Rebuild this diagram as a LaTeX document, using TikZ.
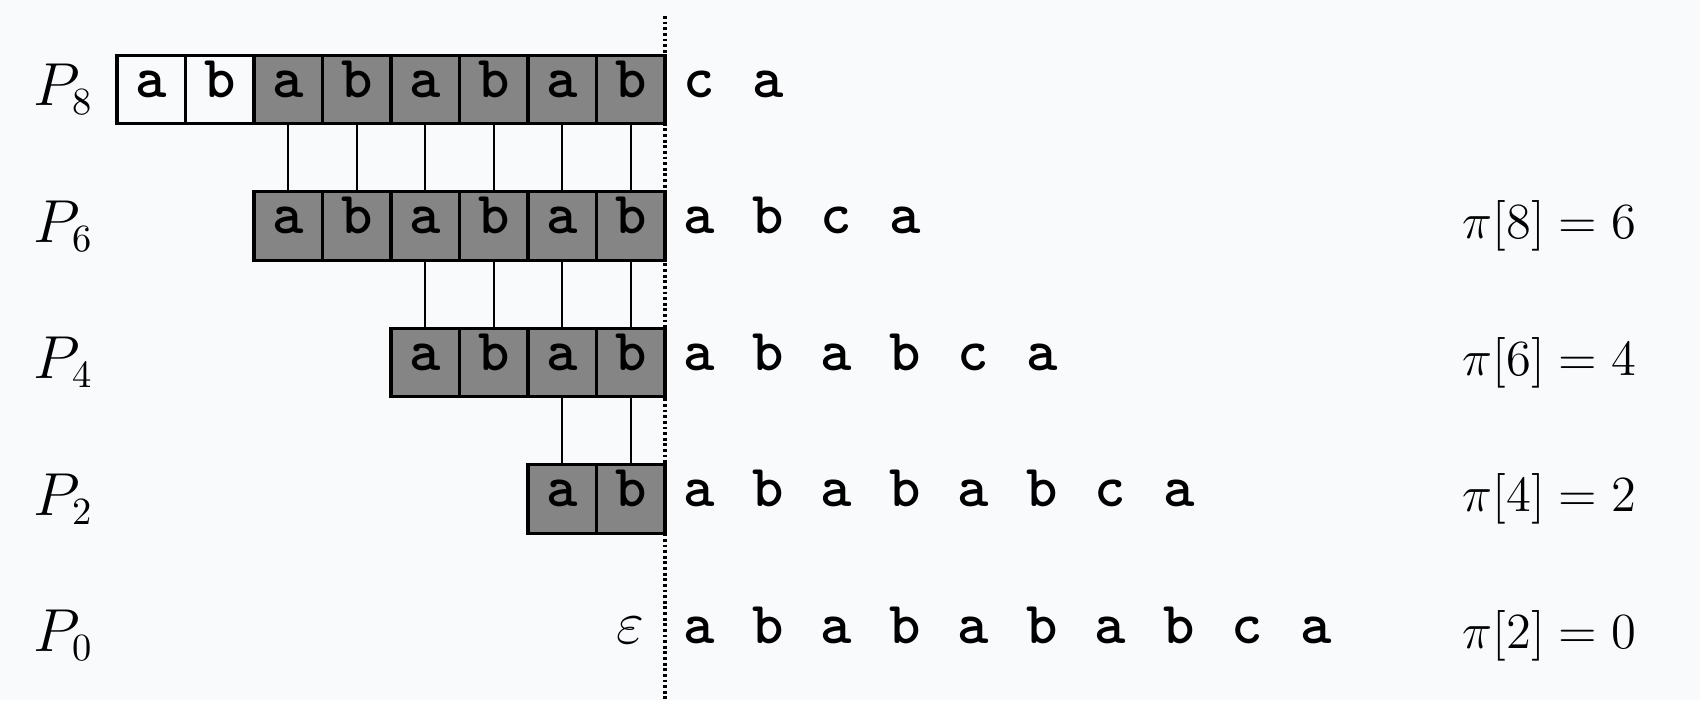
\documentclass[tikz,border=0pt]{standalone}
\usepackage{amsmath,amssymb}
\usepackage{tikz}
\usetikzlibrary{positioning,calc}

\definecolor{paper}{RGB}{249,250,252}
\definecolor{match}{gray}{0.52}

\begin{document}
\begin{tikzpicture}[
    font=\fontsize{15}{18}\selectfont,
    cell/.style={draw, line width=0.9pt, minimum width=0.685cm, minimum height=0.685cm,
      inner sep=0pt, outer sep=0pt, font=\fontsize{17}{20}\selectfont\ttfamily\bfseries,
      text height=1ex, text depth=0pt},
    hit/.style={cell, fill=match},
    txt/.style={inner sep=0pt, font=\fontsize{17}{20}\selectfont\ttfamily\bfseries,
      text height=1ex, text depth=0pt},
    lbl/.style={anchor=west, inner sep=0pt, font=\fontsize{16}{19}\selectfont},
    pilbl/.style={anchor=east, inner sep=0pt},
    link/.style={line width=0.6pt},
    cut/.style={line width=1pt, dash pattern=on 0.8pt off 0.8pt},
  ]
    \fill[paper] (0,0) rectangle (17,-7);
    \useasboundingbox (0,0) rectangle (17,-7);

    % row labels
    \foreach \n/\y in {8/-0.895,6/-2.26,4/-3.625,2/-4.99,0/-6.355}
      \node[lbl] (p\n) at (0.33,\y) {$P_{\n}$};

    % shifted patterns, right end on the cut
    \foreach \c [count=\i] in {a,b}
      \node[cell] (r8-\i) at ({6.65+(\i-8.5)*0.685},-0.895) {\c};
    \foreach \c [count=\i from 3] in {a,b,a,b,a,b}
      \node[hit] (r8-\i) at ({6.65+(\i-8.5)*0.685},-0.895) {\c};
    \foreach \c [count=\i] in {a,b,a,b,a,b}
      \node[hit] (r6-\i) at ({6.65+(\i-6.5)*0.685},-2.26) {\c};
    \foreach \c [count=\i] in {a,b,a,b}
      \node[hit] (r4-\i) at ({6.65+(\i-4.5)*0.685},-3.625) {\c};
    \foreach \c [count=\i] in {a,b}
      \node[hit] (r2-\i) at ({6.65+(\i-2.5)*0.685},-4.99) {\c};
    \node[txt] (eps) at ({6.65-0.5*0.685},-6.355) {$\varepsilon$};

    % matching characters
    \foreach \i [evaluate=\i as \j using int(\i-2)] in {3,...,8}
      \draw[link] (r8-\i.south) -- (r6-\j.north);
    \foreach \i [evaluate=\i as \j using int(\i-2)] in {3,...,6}
      \draw[link] (r6-\i.south) -- (r4-\j.north);
    \foreach \i [evaluate=\i as \j using int(\i-2)] in {3,4}
      \draw[link] (r4-\i.south) -- (r2-\j.north);

    % rest of the text
    \foreach \c [count=\i] in {c,a}
      \node[txt] (t8-\i) at ({6.65+(\i-0.5)*0.685},-0.895) {\c};
    \foreach \c [count=\i] in {a,b,c,a}
      \node[txt] (t6-\i) at ({6.65+(\i-0.5)*0.685},-2.26) {\c};
    \foreach \c [count=\i] in {a,b,a,b,c,a}
      \node[txt] (t4-\i) at ({6.65+(\i-0.5)*0.685},-3.625) {\c};
    \foreach \c [count=\i] in {a,b,a,b,a,b,c,a}
      \node[txt] (t2-\i) at ({6.65+(\i-0.5)*0.685},-4.99) {\c};
    \foreach \c [count=\i] in {a,b,a,b,a,b,a,b,c,a}
      \node[txt] (t0-\i) at ({6.65+(\i-0.5)*0.685},-6.355) {\c};

    % prefix function values
    \node[pilbl] (pi8) at (16.37,-2.26) {$\pi[8] = 6$};
    \node[pilbl] (pi6) at (16.37,-3.625) {$\pi[6] = 4$};
    \node[pilbl] (pi4) at (16.37,-4.99) {$\pi[4] = 2$};
    \node[pilbl] (pi2) at (16.37,-6.355) {$\pi[2] = 0$};

    % cut line
    \coordinate (top) at (6.65,-0.16);
    \coordinate (bot) at (6.65,-7);
    \draw[cut] (top) -- (bot);
  \end{tikzpicture}
\end{document}
